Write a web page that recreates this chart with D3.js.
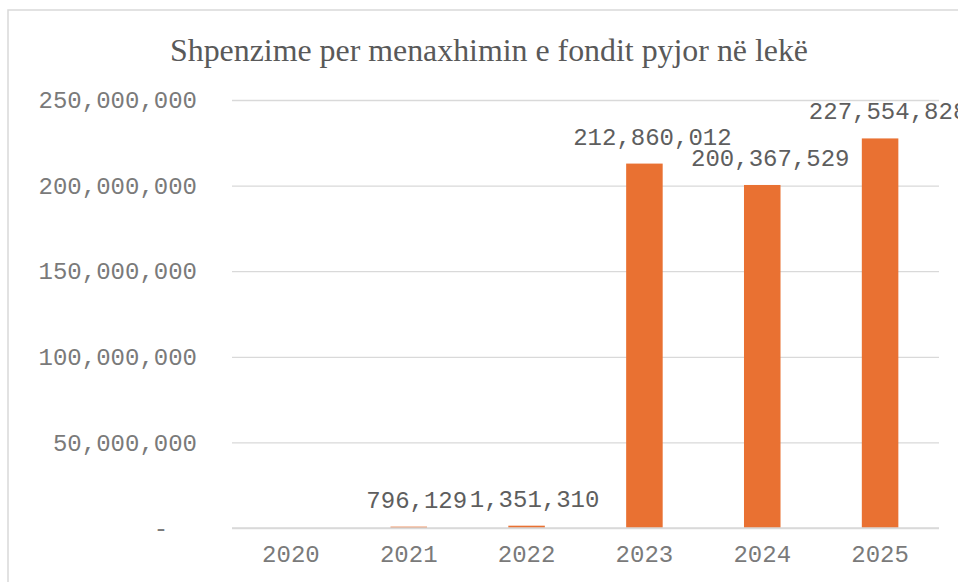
<!DOCTYPE html>
<html>
<head>
<meta charset="utf-8">
<script src="https://cdn.jsdelivr.net/npm/d3@7"></script>
<style>
  html, body { margin: 0; padding: 0; background: #fff; }
  svg { display: block; }
  text { white-space: pre; }
</style>
</head>
<body>
<svg id="chart" width="958" height="582"></svg>
<script>
const title = "Shpenzime per menaxhimin e fondit pyjor në lekë";
const years = ["2020", "2021", "2022", "2023", "2024", "2025"];
const values = [null, 796129, 1351310, 212860012, 200367529, 227554828];
const yTicks = [0, 50000000, 100000000, 150000000, 200000000, 250000000];

const svg = d3.select("#chart");
const W = 958, H = 582;
const plot = { left: 232, right: 939, top: 100, bottom: 528 };

svg.append("rect").attr("width", W).attr("height", H).attr("fill", "#fff");
// chart border (only top/left visible)
svg.append("path")
  .attr("d", `M8,${H + 5} L8,10 L${W + 5},10`)
  .attr("fill", "none").attr("stroke", "#d9d9d9").attr("stroke-width", 1.5);

svg.append("text")
  .attr("x", 489).attr("y", 61)
  .attr("text-anchor", "middle")
  .attr("font-family", "'Liberation Serif', 'Times New Roman', serif")
  .attr("font-size", 31)
  .attr("fill", "#595959")
  .attr("textLength", 638).attr("lengthAdjust", "spacingAndGlyphs")
  .text(title);

const x = d3.scaleBand().domain(years).range([plot.left, plot.right])
  .paddingInner(0.69).paddingOuter(0.345);
const y = d3.scaleLinear().domain([0, 250000000]).range([plot.bottom, plot.top]);

const fmt = d3.format(",");
const mono = "'Liberation Mono', 'Courier New', monospace";

// gridlines
const yAxis = d3.axisLeft(y).tickValues(yTicks)
  .tickSize(-(plot.right - plot.left))
  .tickFormat(d => d === 0 ? "-  " : fmt(d));
const gy = svg.append("g").attr("transform", `translate(${plot.left},0)`).call(yAxis);
gy.select(".domain").remove();
gy.selectAll(".tick line").attr("stroke", "#d9d9d9").attr("stroke-width", 1.3);
gy.selectAll(".tick text")
  .attr("x", -35)
  .attr("font-family", mono).attr("font-size", 24).attr("fill", "#7a7a7a");

// x axis
const xAxis = d3.axisBottom(x).tickSize(0).tickPadding(0);
const gx = svg.append("g").attr("transform", `translate(0,${plot.bottom})`).call(xAxis);
gx.select(".domain").remove();
gx.selectAll(".tick text")
  .attr("dy", null).attr("y", 34)
  .attr("font-family", mono).attr("font-size", 24).attr("fill", "#7a7a7a");

// bars
const data = years.map((yr, i) => ({ yr, v: values[i] })).filter(d => d.v != null);
svg.append("g").selectAll("rect").data(data).join("rect")
  .attr("x", d => x(d.yr))
  .attr("width", x.bandwidth())
  .attr("y", d => y(d.v))
  .attr("height", d => y(0) - y(d.v))
  .attr("fill", "#e97132");

// baseline redraw on top
svg.append("line")
  .attr("x1", plot.left).attr("x2", plot.right)
  .attr("y1", plot.bottom).attr("y2", plot.bottom)
  .attr("stroke", "#d9d9d9").attr("stroke-width", 1.3);

// data labels
svg.append("g").selectAll("text").data(data).join("text")
  .attr("x", d => x(d.yr) + x.bandwidth() / 2 + 8)
  .attr("y", d => y(d.v) - 19)
  .attr("text-anchor", "middle")
  .attr("font-family", mono).attr("font-size", 24).attr("fill", "#5e5e5e")
  .text(d => fmt(d.v));
</script>
</body>
</html>
